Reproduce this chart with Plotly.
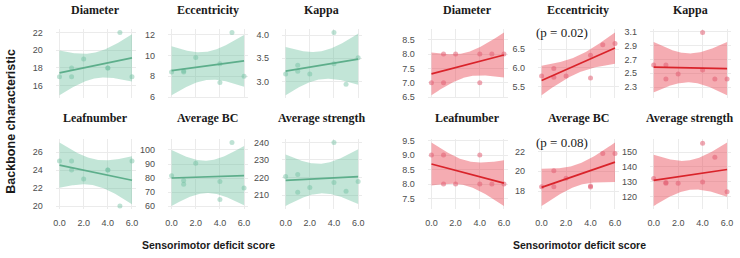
import numpy as np
import plotly.graph_objects as go

W, H = 740, 258

# ---------------- data ----------------
deficit = [0, 1, 1, 2, 4, 4, 5, 6]
measures = ["Diameter", "Eccentricity", "Kappa", "Leafnumber", "Average BC", "Average strength"]

green_diameter = [17, 17, 18, 19, 18, 18, 22, 17]
green_eccentricity = [8.4, 8.4, 8.5, 9.8, 9.2, 7.4, 12.2, 8.0]
green_kappa = [3.16, 3.35, 3.22, 3.16, 4.06, 3.38, 2.94, 3.51]
green_leafnumber = [25, 25, 24, 23, 24, 24, 20, 25]
green_avg_bc = [81.7, 78.3, 75.6, 90.5, 77.6, 64.7, 105.4, 72.9]
green_avg_strength = [220.6, 221.7, 211.7, 214.4, 240.0, 217.2, 212.2, 217.8]

red_diameter = [7, 8, 7, 8, 8, 7, 8, 8]
red_eccentricity = [5.78, 5.98, 5.75, 5.78, 5.73, 6.34, 6.62, 6.65]
red_kappa = [2.62, 2.62, 2.42, 2.49, 3.09, 2.55, 2.42, 2.42]
red_leafnumber = [9, 9, 8, 8, 9, 8, 8, 8]
red_avg_bc = [18.42, 20.05, 18.42, 19.3, 18.5, 18.4, 21.8, 21.8]
red_avg_strength = [132.2, 129.1, 129.5, 129.1, 155.9, 129.8, 146.5, 123.3]

x_tick_labels = ["0.0", "2.0", "4.0", "6.0"]
green_ytick_labels = [["16", "18", "20", "22"], ["6", "8", "10", "12"], ["3.0", "3.5", "4.0"],
                      ["20", "22", "24", "26"], ["60", "70", "80", "90", "100"], ["210", "220", "230", "240"]]
red_ytick_labels = [["6.5", "7.0", "7.5", "8.0", "8.5"], ["5.5", "6.0", "6.5"], ["2.3", "2.5", "2.7", "2.9", "3.1"],
                    ["7.5", "8.0", "8.5", "9.0", "9.5"], ["18", "20", "22"], ["120", "130", "140", "150"]]
red_p_labels = {1: "(p = 0.02)", 4: "(p = 0.08)"}

x_title = "Sensorimotor deficit score"
y_title = "Backbone characteristic"

green_series = [green_diameter, green_eccentricity, green_kappa, green_leafnumber, green_avg_bc, green_avg_strength]
red_series = [red_diameter, red_eccentricity, red_kappa, red_leafnumber, red_avg_bc, red_avg_strength]

# ---------------- styling / layout ----------------
groups = [
    dict(series=green_series, ticks=green_ytick_labels, line="#5DAE8B", band="rgba(102,190,155,0.40)",
         point="rgba(110,190,160,0.45)", cols=[(53.3, 133.7), (166.3, 246.7), (281.3, 361.7)], p={}),
    dict(series=red_series, ticks=red_ytick_labels, line="#D9232A", band="rgba(232,72,85,0.45)",
         point="rgba(225,95,115,0.55)", cols=[(428.3, 508.7), (539.3, 620.7), (652.3, 733.7)], p=red_p_labels),
]
rows = [(27, 98), (140, 212)]
title_y = [7, 118]

T975 = {5: 2.5706, 6: 2.4469, 7: 2.3646}


def fit_band(x, y, grid):
    x = np.asarray(x, float)
    y = np.asarray(y, float)
    n = len(x)
    b, a = np.polyfit(x, y, 1)
    fit = a + b * grid
    resid = y - (a + b * x)
    s = np.sqrt(np.sum(resid ** 2) / (n - 2))
    sxx = np.sum((x - x.mean()) ** 2)
    se = s * np.sqrt(1.0 / n + (grid - x.mean()) ** 2 / sxx)
    t = T975[n - 2]
    return fit, fit - t * se, fit + t * se


fig = go.Figure()
grid = np.linspace(0, 6, 80)
annotations = []
layout_axes = {}

tick_font = dict(family="Liberation Sans, Arial, sans-serif", size=9, color="#4D4D4D")
title_font = dict(family="Liberation Serif, Times New Roman, serif", size=12, color="#1a1a1a")

k = 0
for g, grp in enumerate(groups):
    for m, ys in enumerate(grp["series"]):
        r, c = divmod(m, 3)
        k += 1
        xa = "x" if k == 1 else f"x{k}"
        ya = "y" if k == 1 else f"y{k}"
        fit, lo, hi = fit_band(deficit, ys, grid)

        fig.add_trace(go.Scatter(
            x=np.concatenate([grid, grid[::-1]]), y=np.concatenate([hi, lo[::-1]]),
            fill="toself", fillcolor=grp["band"], line=dict(width=0), mode="lines",
            hoverinfo="skip", showlegend=False, xaxis=xa, yaxis=ya))
        fig.add_trace(go.Scatter(
            x=deficit, y=ys, mode="markers", marker=dict(size=5, color=grp["point"]),
            showlegend=False, xaxis=xa, yaxis=ya))
        fig.add_trace(go.Scatter(
            x=grid, y=fit, mode="lines", line=dict(color=grp["line"], width=1.7),
            showlegend=False, xaxis=xa, yaxis=ya))

        ymin = min(lo.min(), min(ys))
        ymax = max(hi.max(), max(ys))
        pad = 0.05 * (ymax - ymin)
        x0, x1 = grp["cols"][c]
        top, bot = rows[r]
        labels = grp["ticks"][m]
        suffix = "" if k == 1 else str(k)
        layout_axes["xaxis" + suffix] = dict(
            domain=[x0 / W, x1 / W], range=[-0.3, 6.3], anchor=ya,
            tickvals=[float(v) for v in x_tick_labels], ticktext=x_tick_labels,
            showticklabels=(r == 1), showgrid=True, gridcolor="#EBEBEB", gridwidth=0.8,
            zeroline=False, showline=False, ticks="", tickfont=tick_font, ticklabelstandoff=7)
        layout_axes["yaxis" + suffix] = dict(
            domain=[1 - bot / H, 1 - top / H], range=[ymin - pad, ymax + pad], anchor=xa,
            tickvals=[float(v) for v in labels], ticktext=labels,
            showgrid=True, gridcolor="#EBEBEB", gridwidth=0.8,
            zeroline=False, showline=False, ticks="", tickfont=tick_font, ticklabelstandoff=12)

        annotations.append(dict(
            text=f"<b>{measures[m]}</b>", x=(x0 + x1) / 2 / W, y=1 - title_y[r] / H,
            xref="paper", yref="paper", showarrow=False, xanchor="center", yanchor="middle",
            font=title_font))
        if m in grp["p"]:
            annotations.append(dict(
                text=grp["p"][m], x=1.7, y=0.95, xref=xa, yref=f"{ya} domain",
                showarrow=False, xanchor="center", yanchor="middle",
                font=dict(family="Liberation Serif, Times New Roman, serif", size=13, color="#1a1a1a")))

# axis titles
annotations.append(dict(text=f"<b>{y_title}</b>", x=8 / W, y=1 - 121 / H, xref="paper", yref="paper",
                        showarrow=False, textangle=-90, xanchor="center", yanchor="middle",
                        font=dict(family="Liberation Sans, Arial, sans-serif", size=12.5, color="#1a1a1a")))
for grp in groups:
    cx = (grp["cols"][0][0] + grp["cols"][2][1]) / 2 / W
    annotations.append(dict(text=f"<b>{x_title}</b>", x=cx, y=1 - 249 / H, xref="paper", yref="paper",
                            showarrow=False, xanchor="center", yanchor="middle",
                            font=dict(family="Liberation Sans, Arial, sans-serif", size=10.5, color="#1a1a1a")))

fig.update_layout(width=W, height=H, margin=dict(l=0, r=0, t=0, b=0),
                  paper_bgcolor="white", plot_bgcolor="white", showlegend=False,
                  annotations=annotations, **layout_axes)

fig.write_html("out.html", config={"displayModeBar": False},
               post_script="document.body.style.margin='0';document.body.style.padding='0';"
                           "document.body.style.overflow='hidden';")
